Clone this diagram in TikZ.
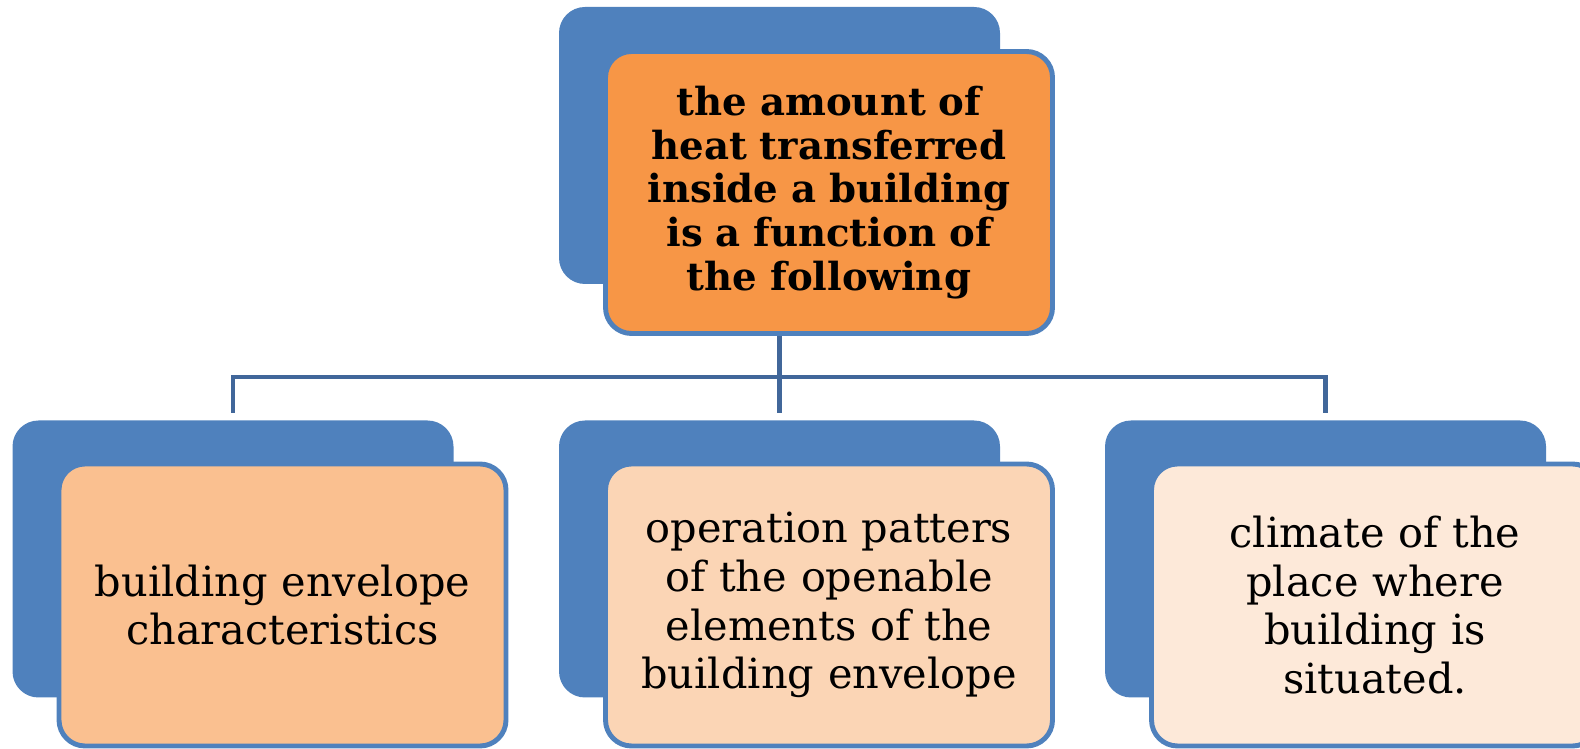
\documentclass[tikz,border=0pt]{standalone}
\usepackage{fontspec}
\setmainfont{DejaVu Serif}
\usetikzlibrary{positioning,calc}
\definecolor{backcol}{RGB}{79,129,189}
\definecolor{linkcol}{RGB}{65,103,154}
\definecolor{topcol}{RGB}{247,150,70}
\definecolor{envcol}{RGB}{250,192,144}
\definecolor{opercol}{RGB}{251,213,181}
\definecolor{climcol}{RGB}{253,233,217}
\tikzset{
  back/.style  = {rectangle, rounded corners=2.6mm, fill=backcol, draw=none,
                  minimum width=44.1mm, minimum height=27.7mm, outer sep=0pt},
  front/.style = {rectangle, rounded corners=2.6mm, draw=backcol, line width=1.4pt,
                  fill=#1, minimum width=44.7mm, minimum height=28.2mm,
                  align=center, text width=42mm, inner sep=0pt, outer sep=0pt,
                  font=\fontsize{11.8pt}{13.9pt}\selectfont},
  headtext/.style = {font=\fontsize{11pt}{12.4pt}\selectfont\bfseries},
  link/.style  = {draw=linkcol, line width=1.4pt},
}
\begin{document}
\begin{tikzpicture}
  \useasboundingbox (0,0) rectangle (158mm,-74.9mm);

  % back cards
  \node[back] (topback)  at (77.95mm,-14.55mm) {};
  \node[back] (envback)  at (23.3mm,-55.9mm) {};
  \node[back] (operback) at (77.95mm,-55.9mm) {};
  \node[back] (climback) at (132.55mm,-55.9mm) {};

  % tree lines
  \coordinate (bus) at (77.95mm,-37.7mm);
  \draw[link] (topback.center) -- (topback.center |- bus);
  \foreach \n in {envback,operback,climback}
    \draw[link, shorten >=0.7mm] (topback.center |- bus) -| (\n.north);

  % front cards
  \node[front=topcol, headtext] (top) at ($(topback.center)+(4.95mm,-4.7mm)$)
       {the amount of\\ heat transferred\\ inside a building\\ is a function of\\ the following};
  \node[front=envcol] (env) at ($(envback.center)+(4.95mm,-4.6mm)$)
       {building envelope\\ characteristics};
  \node[front=opercol] (oper) at ($(operback.center)+(4.95mm,-4.6mm)$)
       {operation patters\\ of the openable\\ elements of the\\ building envelope};
  \node[front=climcol] (clim) at ($(climback.center)+(4.95mm,-4.6mm)$)
       {climate of the\\ place where\\ building is\\ situated.};
\end{tikzpicture}
\end{document}
